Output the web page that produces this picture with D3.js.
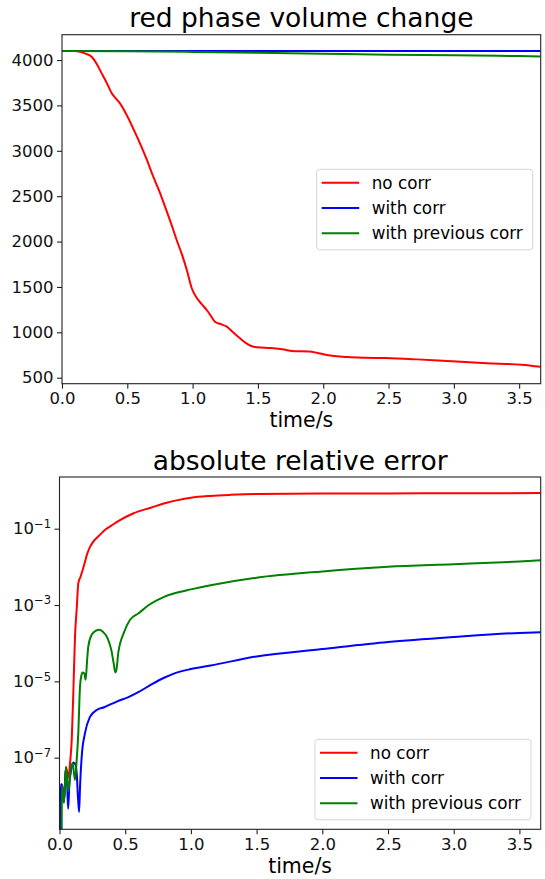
<!DOCTYPE html>
<html>
<head>
<meta charset="utf-8">
<script src="https://cdn.jsdelivr.net/npm/d3@7"></script>
<style>
  body { margin: 0; background: #fff; }
  svg { display: block; font-family: "DejaVu Sans", sans-serif; }
</style>
</head>
<body>
<div id="chart"></div>
<script>
// legend labels and colours
const seriesNames = ['no corr', 'with corr', 'with previous corr'];
const seriesColors = ['#ff0000', '#0000ff', '#008000'];

const xTicks = [0, 0.5, 1, 1.5, 2, 2.5, 3, 3.5];
const volTicks = [500, 1000, 1500, 2000, 2500, 3000, 3500, 4000];
const errTicks = [1e-7, 1e-5, 1e-3, 1e-1];

// red phase volume (top panel)
const redVolT = [0, 0.1, 0.138, 0.18, 0.227, 0.265, 0.304, 0.345, 0.381, 0.41, 0.444, 0.508, 0.55, 0.597, 0.65, 0.699, 0.745, 0.789, 0.835, 0.878, 0.92, 0.955, 0.995, 1.031, 1.07, 1.108, 1.14, 1.171, 1.215, 1.261, 1.31, 1.363, 1.4, 1.44, 1.493, 1.6, 1.7, 1.76, 1.893, 1.95, 2.027, 2.187, 2.32, 2.48, 2.72, 2.987, 3.253, 3.52, 3.665];
const redVol = [4100, 4099, 4091, 4070, 4036, 3960, 3853, 3740, 3633, 3580, 3523, 3358, 3230, 3082, 2900, 2714, 2555, 2384, 2200, 2017, 1850, 1690, 1480, 1380, 1310, 1246, 1180, 1117, 1090, 1062, 1000, 934, 890, 855, 835, 826, 810, 795, 789, 775, 750, 727, 720, 717, 702, 680, 660, 643, 620];
const blueVolT = [0, 1, 2, 3, 3.665];
const blueVol = [4100, 4099.9, 4099.7, 4099.4, 4099.2];
const greenVolT = [0, 0.5, 1, 1.5, 2, 2.5, 3, 3.5, 3.665];
const greenVol = [4100, 4097, 4089, 4079, 4069, 4059, 4052, 4043, 4040];

// absolute relative error (bottom panel)
const redErrT = [0, 0.012, 0.02, 0.034, 0.049, 0.067, 0.08, 0.093, 0.105, 0.118, 0.132, 0.143, 0.16, 0.175, 0.19, 0.207, 0.23, 0.257, 0.3, 0.35, 0.392, 0.45, 0.56, 0.7, 0.816, 0.9, 1.0, 1.145, 1.3, 1.5, 2.0, 2.5, 3.0, 3.665];
const redErr = [1e-10, 2e-8, 1.8e-8, 7e-9, 5.8e-8, 3e-8, 7e-8, 2.9e-7, 4.9e-6, 1.5e-4, 9e-4, 3.7e-3, 5.5e-3, 8e-3, 1.2e-2, 2e-2, 3.2e-2, 4.6e-2, 6.5e-2, 9.5e-2, 1.18e-1, 1.6e-1, 2.5e-1, 3.6e-1, 4.8e-1, 5.6e-1, 6.45e-1, 7.2e-1, 7.7e-1, 8.1e-1, 8.3e-1, 8.4e-1, 8.45e-1, 8.55e-1];
const blueErrT = [0, 0.012, 0.02, 0.034, 0.048, 0.058, 0.066, 0.075, 0.09, 0.105, 0.118, 0.131, 0.14, 0.149, 0.157, 0.169, 0.194, 0.232, 0.283, 0.34, 0.44, 0.52, 0.6, 0.7, 0.8, 0.87, 1.0, 1.15, 1.5, 2.0, 2.5, 3.0, 3.5, 3.665];
const blueErr = [1e-10, 2e-8, 1.8e-8, 7e-9, 5.1e-8, 2e-8, 4.6e-9, 2e-8, 5e-8, 7.5e-8, 7e-8, 3.9e-8, 1e-8, 3.8e-9, 2e-8, 1.07e-7, 4.4e-7, 1.17e-6, 1.78e-6, 2.1e-6, 3e-6, 3.8e-6, 5.2e-6, 8.3e-6, 1.26e-5, 1.6e-5, 2.1e-5, 2.6e-5, 4.5e-5, 7e-5, 1.07e-4, 1.45e-4, 1.86e-4, 1.95e-4];
const greenErrT = [0, 0.016, 0.018, 0.024, 0.034, 0.049, 0.067, 0.085, 0.1, 0.118, 0.13, 0.143, 0.156, 0.166, 0.176, 0.188, 0.199, 0.21, 0.219, 0.245, 0.275, 0.303, 0.33, 0.359, 0.38, 0.397, 0.412, 0.425, 0.435, 0.447, 0.49, 0.537, 0.6, 0.68, 0.74, 0.8, 0.87, 1.0, 1.15, 1.5, 2.0, 2.5, 3.0, 3.5, 3.665];
const greenErr = [1e-10, 1e-10, 1.8e-8, 1.4e-8, 6.5e-9, 5.5e-8, 1.3e-8, 5e-8, 7e-8, 2.6e-8, 8e-8, 4.4e-7, 7.2e-6, 1.4e-5, 1.7e-5, 1.65e-5, 1.1e-5, 3.5e-5, 8.1e-5, 1.66e-4, 2.1e-4, 2.24e-4, 2e-4, 1.5e-4, 1e-4, 6e-5, 3e-5, 1.7e-5, 2.2e-5, 5.5e-5, 1.9e-4, 4.1e-4, 6e-4, 1e-3, 1.32e-3, 1.66e-3, 2e-3, 2.57e-3, 3.3e-3, 5.2e-3, 7.6e-3, 1.0e-2, 1.17e-2, 1.38e-2, 1.48e-2];

const width = 545;
const height = 879;
const tickFont = 16.5;

const svg = d3.select('#chart')
    .append('svg')
    .attr('width', width)
    .attr('height', height);

function drawPanel(p) {
    const g = svg.append('g');

    svg.append('clipPath')
        .attr('id', 'clip-' + p.id)
        .append('rect')
        .attr('x', p.left)
        .attr('y', p.top)
        .attr('width', p.right - p.left)
        .attr('height', p.bottom - p.top);

    // x axis
    const xAxis = g.append('g')
        .attr('transform', `translate(0,${p.bottom})`)
        .call(d3.axisBottom(p.x).tickValues(xTicks).tickFormat(d3.format('.1f')).tickSize(5).tickPadding(3.5));

    // y axis
    const yAxis = g.append('g')
        .attr('transform', `translate(${p.left},0)`)
        .call(d3.axisLeft(p.y).tickValues(p.yTicks).tickFormat(p.yFormat || (d => d)).tickSize(5).tickPadding(3.5));

    [xAxis, yAxis].forEach(ax => {
        ax.select('.domain').remove();
        ax.selectAll('.tick line').attr('stroke', '#222').attr('stroke-width', 1.1);
        ax.selectAll('.tick text')
            .attr('fill', '#111')
            .style('font-size', tickFont + 'px')
            .style('font-family', '"DejaVu Sans", sans-serif');
    });

    // powers of ten on the log axis
    if (p.log) {
        yAxis.selectAll('.tick text').each(function (d) {
            const t = d3.select(this).text('');
            t.append('tspan').text('10');
            t.append('tspan')
                .style('font-size', (tickFont * 0.7) + 'px')
                .attr('dy', '-0.55em')
                .text('\u2212' + Math.round(-Math.log10(d)));
        });
    }

    // curves
    const line = d3.line()
        .x(d => p.x(d[0]))
        .y(d => p.y(d[1]))
        .curve(d3.curveMonotoneX);

    p.series.forEach((s, i) => {
        g.append('path')
            .datum(d3.zip(s.t, s.v))
            .attr('clip-path', `url(#clip-${p.id})`)
            .attr('fill', 'none')
            .attr('stroke', seriesColors[i])
            .attr('stroke-width', 2)
            .attr('stroke-linejoin', 'round')
            .attr('d', line);
    });

    // frame
    g.append('rect')
        .attr('x', p.left)
        .attr('y', p.top)
        .attr('width', p.right - p.left)
        .attr('height', p.bottom - p.top)
        .attr('fill', 'none')
        .attr('stroke', '#222')
        .attr('stroke-width', 1.1);

    // title and x label
    g.append('text')
        .attr('x', (p.left + p.right) / 2)
        .attr('y', p.top - 7.4)
        .attr('text-anchor', 'middle')
        .style('font-size', '26.5px')
        .attr('fill', '#000')
        .text(p.title);

    g.append('text')
        .attr('x', (p.left + p.right) / 2)
        .attr('y', p.bottom + 43.7)
        .attr('text-anchor', 'middle')
        .style('font-size', '20.5px')
        .attr('fill', '#000')
        .text('time/s');

    // legend
    const lg = g.append('g').attr('transform', `translate(${p.legend[0]},${p.legend[1]})`);
    lg.append('rect')
        .attr('width', 216)
        .attr('height', 80.5)
        .attr('rx', 3)
        .attr('fill', '#fff')
        .attr('fill-opacity', 0.8)
        .attr('stroke', '#d6d6d6')
        .attr('stroke-width', 1);

    seriesNames.forEach((name, i) => {
        const y = 13.4 + i * 25.3;
        lg.append('line')
            .attr('x1', 5)
            .attr('x2', 42.5)
            .attr('y1', y)
            .attr('y2', y)
            .attr('stroke', seriesColors[i])
            .attr('stroke-width', 2);
        lg.append('text')
            .attr('x', 55)
            .attr('y', y + 6)
            .style('font-size', '16.8px')
            .attr('fill', '#000')
            .text(name);
    });
}

// top panel
const topBox = { left: 62, right: 540.7, top: 34.7, bottom: 383.7 };
drawPanel({
    id: 'vol',
    ...topBox,
    x: d3.scaleLinear().domain([0, 3.665]).range([topBox.left, topBox.right]),
    y: d3.scaleLinear().domain([434, 4279]).range([topBox.bottom, topBox.top]),
    yTicks: volTicks,
    title: 'red phase volume change',
    legend: [316.7, 169.3],
    series: [
        { t: redVolT, v: redVol },
        { t: blueVolT, v: blueVol },
        { t: greenVolT, v: greenVol }
    ]
});

// bottom panel
const botBox = { left: 59.5, right: 540.7, top: 477, bottom: 829.3 };
drawPanel({
    id: 'err',
    ...botBox,
    log: true,
    x: d3.scaleLinear().domain([0, 3.662]).range([botBox.left, botBox.right]),
    y: d3.scaleLog().domain([1.33e-9, 2.26]).range([botBox.bottom, botBox.top]),
    yTicks: errTicks,
    title: 'absolute relative error',
    legend: [315, 739.3],
    series: [
        { t: redErrT, v: redErr },
        { t: blueErrT, v: blueErr },
        { t: greenErrT, v: greenErr }
    ]
});
</script>
</body>
</html>
